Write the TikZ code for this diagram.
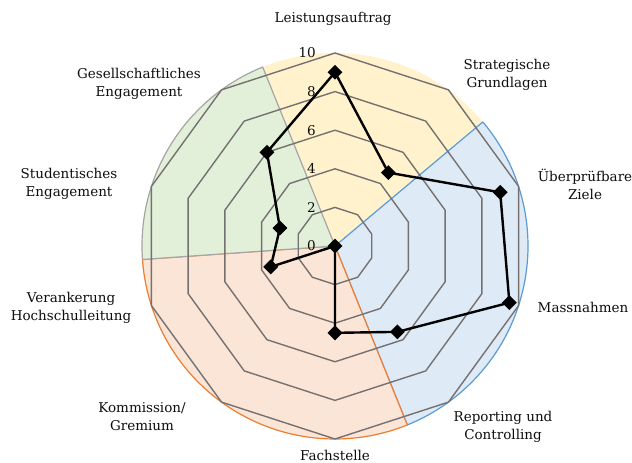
\documentclass[tikz,border=0pt]{standalone}
\usepackage{fontspec}
\setmainfont{DejaVu Serif}
\usetikzlibrary{shapes.geometric}
\definecolor{yfill}{HTML}{FFF2CC}
\definecolor{bfill}{HTML}{DEEBF7}
\definecolor{ofill}{HTML}{FBE5D6}
\definecolor{gfill}{HTML}{E2F0D9}
\definecolor{bline}{HTML}{5B9BD5}
\definecolor{oline}{HTML}{ED7D31}
\definecolor{gline}{HTML}{A5A5A5}
\definecolor{gridc}{HTML}{767171}
\definecolor{txt}{HTML}{0D0D0D}
\begin{document}
\begin{tikzpicture}[x=1bp,y=1bp,
  sector/.style={line width=1.2bp, line join=round},
  gridline/.style={draw=gridc, line width=1.4bp, line join=round},
  dataline/.style={draw=black, line width=2.4bp, line join=round},
  marker/.style={diamond, fill=black, inner sep=0pt, minimum width=15bp, minimum height=15bp},
  lbl/.style={font=\fontsize{13.5bp}{18bp}\selectfont, text=txt, align=center, inner sep=0pt},
  tick/.style={font=\fontsize{13.5bp}{15bp}\selectfont, text=txt, anchor=east, inner sep=0pt}]
\useasboundingbox (0,0) rectangle (632,463);
\coordinate (C) at (335,217);
\def\R{193}
% background sectors
\fill[yfill] (C) -- ++(40:\R) arc[start angle=40, end angle=112, radius=\R] -- cycle;
\filldraw[sector, fill=bfill, draw=bline] (C) -- ++(-68:\R) arc[start angle=-68, end angle=40, radius=\R] -- cycle;
\filldraw[sector, fill=ofill, draw=oline] (C) -- ++(184:\R) arc[start angle=184, end angle=292, radius=\R] -- cycle;
\filldraw[sector, fill=gfill, draw=gline] (C) -- ++(112:\R) arc[start angle=112, end angle=184, radius=\R] -- cycle;
% grid
\begin{scope}[shift={(C)}]
\foreach \k in {2,4,6,8,10} {
  \pgfmathsetmacro{\r}{\k*19.3}
  \draw[gridline] (90:\r) -- (54:\r) -- (18:\r) -- (-18:\r) -- (-54:\r) -- (-90:\r) -- (-126:\r) -- (-162:\r) -- (162:\r) -- (126:\r) -- cycle;
}
% data points
\coordinate (p1) at (90:9*19.3);
\coordinate (p2) at (54:4.7*19.3);
\coordinate (p3) at (18:9*19.3);
\coordinate (p4) at (-18:9.5*19.3);
\coordinate (p5) at (-54:5.5*19.3);
\coordinate (p6) at (-90:4.5*19.3);
\coordinate (p7) at (0,0);
\coordinate (p8) at (-162:3.5*19.3);
\coordinate (p9) at (162:3*19.3);
\coordinate (p10) at (126:6*19.3);
\end{scope}
\draw[dataline] (p1) -- (p2) -- (p3) -- (p4) -- (p5) -- (p6) -- (p7) -- (p8) -- (p9) -- (p10) -- cycle;
\foreach \i in {1,...,10} { \node[marker] (m\i) at (p\i) {}; }
% ticks
\foreach \k in {0,2,4,6,8,10} { \node[tick] (t\k) at (316,217+\k*19.3) {\k}; }
% category labels
\node[lbl] (l1) at (333,444) {Leistungsauftrag};
\node[lbl] (l2) at (507,388.5) {Strategische\\Grundlagen};
\node[lbl] (l3) at (585,279) {Überprüfbare\\Ziele};
\node[lbl] (l4) at (583,156) {Massnahmen};
\node[lbl] (l5) at (503,36.5) {Reporting und\\Controlling};
\node[lbl] (l6) at (335,7.5) {Fachstelle};
\node[lbl] (l7) at (142,46) {Kommission/\\Gremium};
\node[lbl] (l8) at (71,155) {Verankerung\\Hochschulleitung};
\node[lbl] (l9) at (69,279) {Studentisches\\Engagement};
\node[lbl] (l10) at (139,379.5) {Gesellschaftliches\\Engagement};
\end{tikzpicture}
\end{document}
